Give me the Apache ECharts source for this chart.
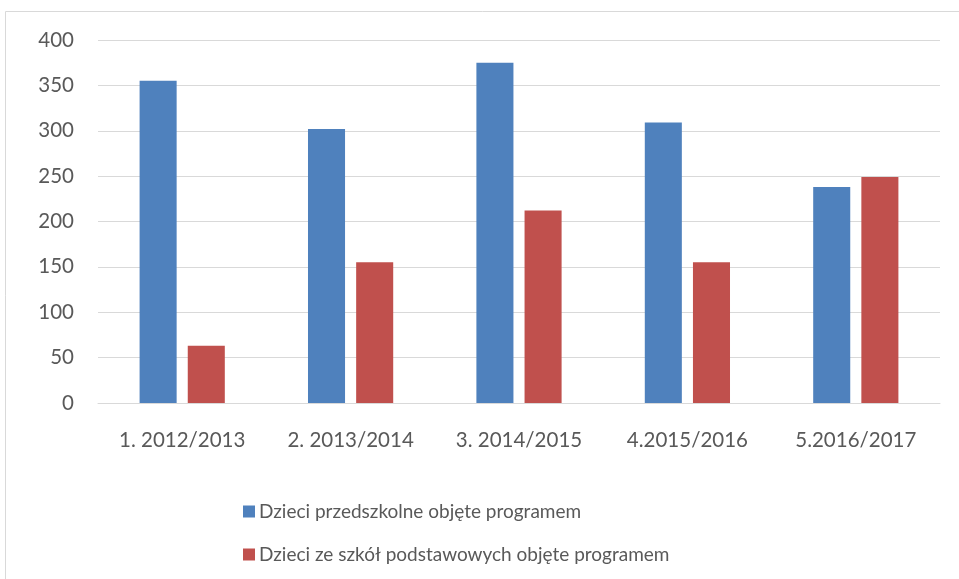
<!DOCTYPE html>
<html><head><meta charset="utf-8">
<script src="https://cdn.jsdelivr.net/npm/echarts@6/dist/echarts.min.js"></script>
<style>html,body{margin:0;padding:0;background:#fff}#c{width:959px;height:579px}</style>
</head><body><div id="c"></div>
<script>
const categories = ['1. 2012/2013','2. 2013/2014','3. 2014/2015','4.2015/2016','5.2016/2017'];
const seriesNames = ['Dzieci przedszkolne objęte programem','Dzieci ze szkół podstawowych objęte programem'];
const preschool = [355, 302, 375, 309, 238];
const primary = [63, 155, 212, 155, 249];
const yTicks = [0,50,100,150,200,250,300,350,400];

const chart = echarts.init(document.getElementById('c'));
const font = 'Lato, "Open Sans", sans-serif';
chart.setOption({
  animation:false,
  graphic:[{type:'rect',shape:{x:5.5,y:11.5,width:960,height:600},style:{fill:'none',stroke:'#d9d9d9',lineWidth:1}}],
  grid:{left:98,right:19,top:40,bottom:176},
  legend:{orient:'vertical',left:238,top:497,itemWidth:12,itemHeight:12,itemGap:24,icon:'rect',
    textStyle:{fontFamily:font,fontSize:19,color:'#595959',padding:[0,0,0,-1]},data:seriesNames},
  xAxis:{type:'category',data:categories,axisLine:{lineStyle:{color:'#d9d9d9',width:1}},axisTick:{show:false},
    axisLabel:{fontFamily:font,fontSize:20.5,color:'#595959',margin:27}},
  yAxis:{type:'value',min:yTicks[0],max:yTicks[yTicks.length-1],interval:50,axisLine:{show:false},axisTick:{show:false},
    splitLine:{lineStyle:{color:'#d9d9d9',width:1}},
    axisLabel:{fontFamily:font,fontSize:20.5,color:'#595959',margin:24}},
  series:[
    {name:seriesNames[0],type:'bar',data:preschool,barWidth:'22%',barGap:'30%',itemStyle:{color:'#4F81BD'}},
    {name:seriesNames[1],type:'bar',data:primary,barWidth:'22%',barGap:'30%',itemStyle:{color:'#C0504D'}}
  ]
});
</script></body></html>
